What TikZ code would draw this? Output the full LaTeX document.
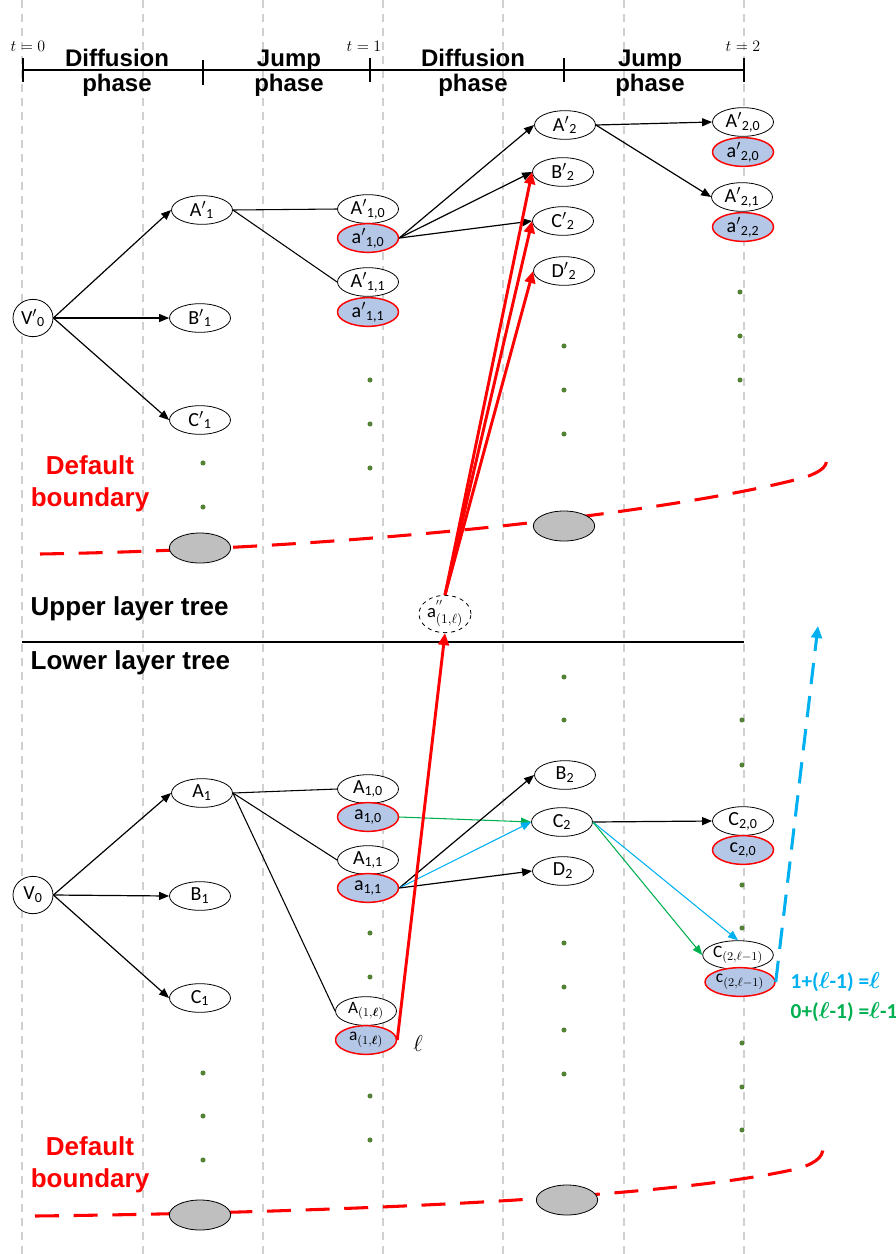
\documentclass[tikz,border=0pt]{standalone}
\usepackage{fontspec}
\usepackage{amsmath}
\setmainfont{Carlito}
\newfontfamily\headfont{Liberation Sans}
\usetikzlibrary{shapes.geometric,arrows.meta}
\definecolor{nodeblue}{HTML}{B4C7E7}
\definecolor{graynode}{HTML}{BFBFBF}
\definecolor{dotgreen}{HTML}{548235}
\definecolor{skyblue}{HTML}{00B0F0}
\definecolor{leafgreen}{HTML}{00B050}
\definecolor{gridgray}{HTML}{D0D0D0}
\newcommand\lsub[1]{\textsubscript{#1}}
\tikzset{
  vnode/.style={ellipse, draw=black, line width=0.6pt, fill=white,
    minimum width=45.75pt, minimum height=21.5pt, inner sep=0pt,
    font=\fontsize{15}{15}\selectfont},
  anode/.style={vnode, draw=red, line width=1.1pt, fill=nodeblue},
  mathlabel/.style={font=\fontsize{13}{13}\selectfont, inner sep=0pt},
  rootnode/.style={vnode, minimum width=30pt, minimum height=28pt},
  graybox/.style={ellipse, draw=black, line width=0.6pt, fill=graynode,
    minimum width=46pt, minimum height=22.5pt},
  edge/.style={line width=0.9pt, -{Triangle[length=7.5pt,width=6pt]}},
  link/.style={line width=0.8pt},
  coledge/.style={line width=0.8pt, -{Triangle[length=7.5pt,width=6pt]}},
  redarrow/.style={red, line width=2.2pt, -{Triangle[length=9pt,width=8pt]}},
  gridline/.style={gridgray, line width=1.1pt, dash pattern=on 6pt off 4.5pt},
  boundary/.style={red, line width=2.3pt, dash pattern=on 18pt off 11pt},
  phase/.style={font=\headfont\bfseries\fontsize{18}{18.5}\selectfont, align=center},
  layer/.style={font=\headfont\bfseries\fontsize{19.5}{22}\selectfont, anchor=west},
  deflabel/.style={font=\headfont\bfseries\fontsize{19.5}{24}\selectfont, align=center, text=red},
  tlabel/.style={font=\fontsize{13}{13}\selectfont},
  formula/.style={font=\bfseries\fontsize{16}{16}\selectfont, anchor=west},
}
\begin{document}
\begin{tikzpicture}[x=0.75pt, y=-0.75pt]
\useasboundingbox (0,0) rectangle (896,1254);

% time grid
\foreach \gx in {22,143,263,383,503,624,744}
  \draw[gridline] (\gx,0) -- (\gx,1254);

% time axis
\draw[line width=1.8pt] (23,70) -- (744,70);
\foreach \tx/\ta/\tb in {23/58/82, 203/60/85, 370/58/82, 564/58/82, 744/58/82}
  \draw[line width=1.5pt] (\tx,\ta) -- (\tx,\tb);
\node[tlabel] (t0) at (28,46) {$t=0$};
\node[tlabel] (t1) at (364,46) {$t=1$};
\node[tlabel] (t2) at (743,46) {$t=2$};
\node[phase] (ph1) at (117,73) {Diffusion\\phase};
\node[phase] (ph2) at (289,73) {Jump\\phase};
\node[phase] (ph3) at (473,73) {Diffusion\\phase};
\node[phase] (ph4) at (650,73) {Jump\\phase};

% default boundaries
\draw[boundary] (40,554) .. controls (400,548) and (700,506) .. (806,477)
  .. controls (822,471) and (829,466) .. (826,455);
\draw[boundary] (35,1216) .. controls (380,1212) and (690,1195) .. (800,1168)
  .. controls (818,1162) and (826,1155) .. (822,1142);
\node[deflabel] (def1) at (90,484) {Default\\boundary};
\node[deflabel] (def2) at (90,1165) {Default\\boundary};

% layer separator
\draw[line width=1.5pt] (22,642) -- (744,642);
\node[layer] (upper) at (26,609) {Upper layer tree};
\node[layer] (lower) at (26,663) {Lower layer tree};

% continuation dots
\foreach \dx/\dy in {203/463, 203/507, 370/380, 370/424, 370/468,
    564/346, 564/390, 564/434, 740/292, 740/336, 740/380,
    564/677, 564/720, 742/720, 742/765, 742/885, 742/928,
    370/933, 370/977, 370/1096, 370/1140,
    564/943, 564/987, 564/1030, 564/1074,
    742/1043, 742/1087, 742/1130,
    203/1073, 203/1116, 203/1160}
  \fill[dotgreen] (\dx,\dy) circle (1.9pt);

% ---------- upper layer tree ----------
\node[rootnode] (Vp0) at (33,318) {V$'$\lsub{0}};
\node[vnode] (Ap1) at (202,210) {A$'$\lsub{1}};
\node[vnode] (Bp1) at (200,318) {B$'$\lsub{1}};
\node[vnode] (Cp1) at (200,420) {C$'$\lsub{1}};
\node[vnode] (Ap10) at (368,209) {A$'$\lsub{1,0}};
\node[anode] (ap10) at (368,238) {a$'$\lsub{1,0}};
\node[vnode] (Ap11) at (368,282) {A$'$\lsub{1,1}};
\node[anode] (ap11) at (368,312) {a$'$\lsub{1,1}};
\node[vnode] (Ap2) at (565,125) {A$'$\lsub{2}};
\node[vnode] (Bp2) at (563,172) {B$'$\lsub{2}};
\node[vnode] (Cp2) at (563,221) {C$'$\lsub{2}};
\node[vnode] (Dp2) at (564,271) {D$'$\lsub{2}};
\node[vnode] (Ap20) at (743,122) {A$'$\lsub{2,0}};
\node[anode] (ap20) at (743,152) {a$'$\lsub{2,0}};
\node[vnode] (Ap21) at (742,197) {A$'$\lsub{2,1}};
\node[anode] (ap22) at (743,227) {a$'$\lsub{2,2}};
\node[graybox] (g1) at (200,548) {};
\node[graybox] (g2) at (564,526) {};

\draw[edge] (Vp0.east) -- (Ap1.west);
\draw[edge] (Vp0.east) -- (Bp1.west);
\draw[edge] (Vp0.east) -- (Cp1.west);
\draw[link] (Ap1.east) -- (Ap10.west);
\draw[link] (Ap1.east) -- (Ap11.west);
\draw[edge] (ap10.east) -- (Ap2.west);
\draw[edge] (ap10.east) -- (Bp2.west);
\draw[edge] (ap10.east) -- (Cp2.west);
\draw[edge] (Ap2.east) -- (Ap20.west);
\draw[edge] (Ap2.east) -- (Ap21.west);

% linking node between the layers
\node[ellipse, draw=black, dashed, line width=0.6pt, fill=white,
  minimum width=39pt, minimum height=26pt, inner sep=0pt,
  font=\fontsize{14}{14}\selectfont] (app) at (445,614)
  {$\mathrm{a}^{''}_{(1,\ell)}$};

% ---------- lower layer tree ----------
\node[rootnode] (V0) at (33,895) {V\lsub{0}};
\node[vnode] (A1) at (202,793) {A\lsub{1}};
\node[vnode] (B1) at (200,896) {B\lsub{1}};
\node[vnode] (C1) at (200,998) {C\lsub{1}};
\node[vnode] (A10) at (368,789) {A\lsub{1,0}};
\node[anode] (a10) at (368,817) {a\lsub{1,0}};
\node[vnode] (A11) at (368,860) {A\lsub{1,1}};
\node[anode] (a11) at (368,888) {a\lsub{1,1}};
\node[vnode, mathlabel] (A1l) at (366,1011) {$\mathrm{A}_{(1,\boldsymbol{\ell})}$};
\node[anode, mathlabel] (a1l) at (366,1040) {$\mathrm{a}_{(1,\boldsymbol{\ell})}$};
\node[vnode] (B2) at (565,775) {B\lsub{2}};
\node[vnode] (C2) at (562,822) {C\lsub{2}};
\node[vnode] (D2) at (563,871) {D\lsub{2}};
\node[vnode] (C20) at (743,821) {C\lsub{2,0}};
\node[anode] (c20) at (743,850) {c\lsub{2,0}};
\node[vnode, mathlabel, minimum width=53pt] (C2l) at (738,955) {$\mathrm{C}_{(2,\ell-1)}$};
\node[anode, mathlabel, minimum width=52.5pt] (c2l) at (740,982) {$\mathrm{c}_{(2,\ell-1)}$};
\node[graybox] (g3) at (200,1215) {};
\node[graybox] (g4) at (567,1200) {};
\node[font=\fontsize{16}{16}\selectfont] (ell) at (418,1043) {$\ell$};

\draw[edge] (V0.east) -- (A1.west);
\draw[edge] (V0.east) -- (B1.west);
\draw[edge] (V0.east) -- (C1.west);
\draw[link] (A1.east) -- (A10.west);
\draw[link] (A1.east) -- (A11.west);
\draw[link] (A1.east) -- (A1l.west);
\draw[coledge, leafgreen] (a10.east) -- (C2.west);
\draw[edge] (a11.east) -- (B2.west);
\draw[coledge, skyblue] (a11.east) -- (C2.west);
\draw[edge] (a11.east) -- (D2.west);
\draw[edge] (C2.east) -- (C20.west);
\draw[coledge, skyblue] (C2.east) -- (C2l.north);
\draw[coledge, leafgreen] (C2.east) -- (C2l.west);

% jump from the lower tree into the upper tree
\draw[redarrow] (a1l.east) -- (app.south);
\draw[redarrow] (app.north) -- (Bp2.west);
\draw[redarrow] (app.north) -- (Cp2.west);
\draw[redarrow] (app.north) -- (Dp2.west);

% level shift
\coordinate (up) at (818,626);
\draw[skyblue, line width=2.3pt, dash pattern=on 16pt off 9pt,
  -{Triangle[length=9pt,width=8pt]}] (c2l.east) -- (up);
\node[formula, text=skyblue] (f1) at (786,982) {1+($\boldsymbol{\ell}$-1) =$\boldsymbol{\ell}$};
\node[formula, text=leafgreen] (f2) at (786,1012) {0+($\boldsymbol{\ell}$-1) =$\boldsymbol{\ell}$-1};
\end{tikzpicture}
\end{document}
